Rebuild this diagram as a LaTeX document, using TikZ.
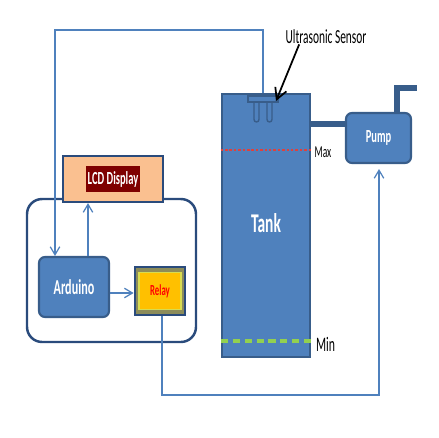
\documentclass[tikz,border=0pt]{standalone}
\usepackage{fontspec}
\setmainfont{Carlito}
\usepackage{graphicx}
\usepackage{xcolor}
\usetikzlibrary{arrows.meta,positioning,calc}
\definecolor{tankblue}{HTML}{4F81BD}
\definecolor{tankedge}{HTML}{385D8A}
\definecolor{boardedge}{HTML}{2A4B7C}
\definecolor{peach}{HTML}{FAC090}
\definecolor{lcdred}{HTML}{7F0000}
\definecolor{relaygold}{HTML}{FFC000}
\definecolor{relayolive}{HTML}{8C8C5A}
\definecolor{relayline}{HTML}{D8DC50}
\definecolor{maxred}{HTML}{E0403C}
\definecolor{mingreen}{HTML}{92D050}
\newcommand{\lbl}[2]{\fontsize{#1}{#1}\selectfont\scalebox{1}[1.75]{#2}}
\tikzset{
  blk/.style={rectangle,draw=tankedge,fill=tankblue,line width=1.2pt,text=white,font=\bfseries,inner sep=0pt},
  board/.style={rectangle,draw=boardedge,fill=white,line width=1.4pt,rounded corners=0.3cm},
  lcdbox/.style={rectangle,draw=boardedge,fill=peach,line width=1.3pt},
  wire/.style={line width=.7pt,tankblue},
  wirea/.style={wire,-{Straight Barb[length=1.6mm,width=1.9mm]}},
  pipe/.style={line width=3pt,tankedge},
  maxl/.style={line width=1.6pt,maxred,dash pattern=on 1.4pt off 1.1pt},
  minl/.style={line width=2.1pt,mingreen,dash pattern=on 4pt off 2.8pt},
  lab/.style={inner sep=0pt}
}

\begin{document}
\begin{tikzpicture}[x=0.02cm,y=-0.02cm]
  \useasboundingbox (0,0) rectangle (438,438);

  \node[board,minimum width=3.38cm,minimum height=2.86cm] (ctrl) at (111.5,270.5) {};
  \node[lcdbox,minimum width=2cm,minimum height=0.92cm] (lcd) at (113,179) {};
  \node[lab,fill=lcdred,text=white,font=\bfseries,inner xsep=1pt,minimum height=0.52cm] (lcdtext) at (lcd.center) {\lbl{6}{LCD Display}};
  \node[blk,rounded corners=0.12cm,minimum width=1.4cm,minimum height=1.2cm] (arduino) at (74,287) {\lbl{6.9}{Arduino}};
  \node[rectangle,draw=boardedge,fill=relayolive,line width=1.6pt,minimum width=1cm,minimum height=0.96cm] (relay) at (160,291) {};
  \node[rectangle,draw=relayline,fill=relaygold,line width=.6pt,minimum width=0.84cm,minimum height=0.74cm,text=red,font=\bfseries,inner sep=0pt] (relaytext) at (relay.center) {\lbl{5}{Relay}};

  \node[blk,line width=1.5pt,minimum width=1.76cm,minimum height=5.26cm] (tank) at (266,225.5) {};
  \node[lab,text=white,font=\bfseries] (tanktext) at (266,223) {\lbl{8.8}{Tank}};
  \node[blk,rounded corners=0.12cm,minimum width=1.3cm,minimum height=1cm] (pump) at (378.5,138) {\lbl{6}{Pump}};

  \draw[pipe] (tank.east |- 0,124) -- (pump.west |- 0,124);
  \coordinate (outlet) at (417,88);
  \draw[pipe] (pump.north -| 397,0) |- (outlet);

  \draw[tankedge,fill=tankblue,line width=.8pt,rounded corners=0.05cm] (254,100) rectangle (259,122);
  \draw[tankedge,fill=tankblue,line width=.8pt,rounded corners=0.05cm] (267,100) rectangle (272,122);
  \draw[tankedge,fill=tankblue,line width=.8pt] (248,96) rectangle (278,102);
  \coordinate (sensor) at (276,101);

  \draw[maxl] (tank.west |- 0,150) -- (tank.east |- 0,150);
  \draw[minl] (tank.west |- 0,341) -- (tank.east |- 0,341);
  \node[lab] (maxlab) at (323,152) {\lbl{5.4}{Max}};
  \node[lab] (minlab) at (325.5,344) {\lbl{6.7}{Min}};

  \node[lab] (usl) at (326,37) {\lbl{6.5}{Ultrasonic Sensor}};
  \draw[line width=1pt,-{Straight Barb[length=2.2mm,width=2.4mm]}] ($(usl.south west)+(14,0)$) -- (sensor);

  \draw[wirea] (tank.north -| 263,0) |- (55,30) -- (arduino.north -| 55,0);
  \draw[wirea] (arduino.north -| 88,0) -- (lcd.south -| 88,0);
  \draw[wirea] (arduino.east |- 0,293) -- (relay.west |- 0,293);
  \draw[wirea,shorten >=0.1cm] (relay.south -| 162,0) |- (379,395) -- (pump.south -| 379,0);
\end{tikzpicture}
\end{document}
